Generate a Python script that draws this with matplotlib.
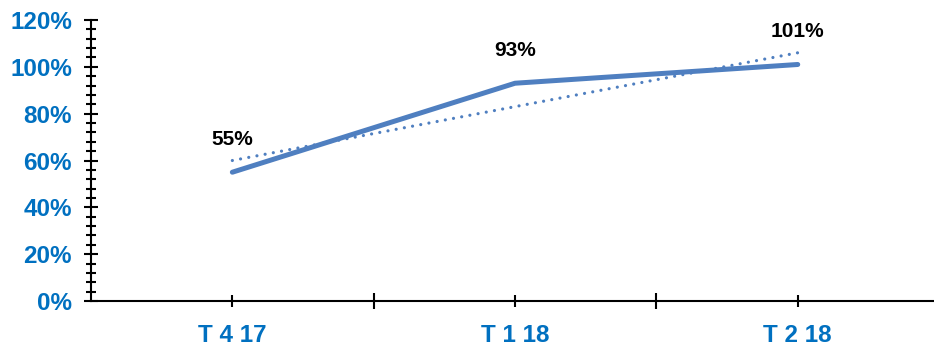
import matplotlib.pyplot as plt
import numpy as np
from matplotlib.ticker import MultipleLocator, FixedLocator

quarters = ['T 4 17', 'T 1 18', 'T 2 18']
ratio = [55, 93, 101]

line_col = '#4F7FC0'
tick_col = '#0070C0'

x = np.arange(len(quarters))
slope, icpt = np.polyfit(x, ratio, 1)

fig = plt.figure(figsize=(9.34, 3.47), dpi=100)
ax = fig.add_axes([91 / 934, 1 - 301 / 347, 1 - 91 / 934, 281 / 347])

ax.plot(x, ratio, color=line_col, lw=3.6, solid_capstyle='round', solid_joinstyle='round', zorder=3)
ax.plot(x, slope * x + icpt, color=line_col, lw=2.3, linestyle=(0, (0.01, 2.6)),
        dash_capstyle='round', zorder=2)

for xi, v in zip(x, ratio):
    ax.annotate(f'{v}%', (xi, v), xytext=(0, 23.5), textcoords='offset points',
                ha='center', va='center', fontsize=15, fontweight='bold',
                family='Liberation Sans', color='black')

ax.set_xlim(-0.5, 2.482)
ax.set_ylim(0, 120)

ax.yaxis.set_major_locator(MultipleLocator(20))
ax.yaxis.set_minor_locator(MultipleLocator(4))
ax.set_yticklabels([f'{int(t)}%' for t in ax.get_yticks()])

ax.xaxis.set_major_locator(FixedLocator([0.5, 1.5]))
ax.xaxis.set_minor_locator(FixedLocator(x))
ax.xaxis.set_major_formatter(plt.NullFormatter())
ax.set_xticks(x, quarters, minor=True)

for s in ['top', 'right']:
    ax.spines[s].set_visible(False)
for s in ['left', 'bottom']:
    ax.spines[s].set_linewidth(1.5)

ax.tick_params(axis='y', which='major', direction='inout', length=9.5, width=1.5, pad=9)
ax.tick_params(axis='y', which='minor', direction='inout', length=7.5, width=1.5)
ax.tick_params(axis='x', which='major', direction='inout', length=12, width=1.5)
ax.tick_params(axis='x', which='minor', direction='inout', length=9, width=1.5, pad=12)

for lab in ax.get_yticklabels() + ax.get_xticklabels(minor=True):
    lab.set_fontsize(17.5)
    lab.set_fontweight('bold')
    lab.set_family('Liberation Sans')
    lab.set_color(tick_col)

fig.savefig('out.png', dpi=100)
